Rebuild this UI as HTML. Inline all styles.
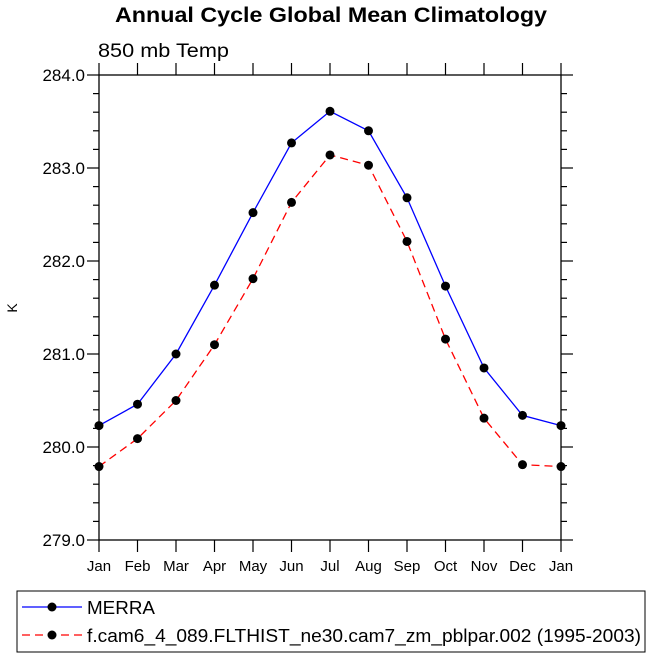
<!DOCTYPE html>
<html><head><meta charset="utf-8"><style>
body{margin:0;background:#fff;}
svg{display:block;font-family:"Liberation Sans",Arial,sans-serif;}
</style></head><body>
<svg width="650" height="660" viewBox="0 0 650 660">
<text x="331" y="22" text-anchor="middle" font-size="21" font-weight="bold" textLength="432" lengthAdjust="spacingAndGlyphs">Annual Cycle Global Mean Climatology</text>
<text x="98" y="57" font-size="19" textLength="131" lengthAdjust="spacingAndGlyphs">850 mb Temp</text>
<text x="17" y="308" font-size="14" text-anchor="middle" transform="rotate(-90 17 308)">K</text>
<g id="axes"></g>
<g id="series"></g>
<rect x="17" y="591" width="628" height="61" fill="none" stroke="#000" stroke-width="1"/>
<g>
<line x1="22" y1="607" x2="82" y2="607" stroke="#0000ff" stroke-width="1.3"/>
<circle cx="52" cy="607" r="4.5" fill="#000"/>
<text x="87" y="614" font-size="18" textLength="68" lengthAdjust="spacingAndGlyphs">MERRA</text>
</g>
<g>
<line x1="22" y1="635" x2="82" y2="635" stroke="#ff0000" stroke-width="1.3" stroke-dasharray="8,5"/>
<circle cx="52" cy="635" r="4.5" fill="#000"/>
<text x="87" y="642" font-size="18" textLength="554" lengthAdjust="spacingAndGlyphs">f.cam6_4_089.FLTHIST_ne30.cam7_zm_pblpar.002 (1995-2003)</text>
</g>
</svg>
<script>
const months = ["Jan","Feb","Mar","Apr","May","Jun","Jul","Aug","Sep","Oct","Nov","Dec","Jan"];
const merra = [280.23,280.46,281.0,281.74,282.52,283.27,283.61,283.40,282.68,281.73,280.85,280.34,280.23];
const model = [279.79,280.09,280.50,281.10,281.81,282.63,283.14,283.03,282.21,281.16,280.31,279.81,279.79];
const yTicks = [279.0,280.0,281.0,282.0,283.0,284.0];
const yMin=279, yMax=284, X0=99, X1=561, Y0=540, Y1=75;
const xs = i => X0 + i*(X1-X0)/(months.length-1);
const ys = v => Y0 - (v-yMin)/(yMax-yMin)*(Y0-Y1);
const NS="http://www.w3.org/2000/svg";
function mk(tag, attrs, parent){const e=document.createElementNS(NS,tag);for(const k in attrs)e.setAttribute(k,attrs[k]);parent.appendChild(e);return e;}
const ax=document.getElementById('axes');
const frame=mk('rect',{x:X0,y:Y1,width:X1-X0,height:Y0-Y1,fill:'none',stroke:'#000','stroke-width':1.3},ax);


months.forEach((m,i)=>{
  const x=xs(i);
  mk('line',{x1:x,y1:Y0,x2:x,y2:Y0+12,stroke:'#000','stroke-width':1.2},ax);
  mk('line',{x1:x,y1:Y1,x2:x,y2:Y1-12,stroke:'#000','stroke-width':1.2},ax);
  const t=mk('text',{x:x,y:Y0+31,'text-anchor':'middle','font-size':15},ax);
  t.textContent=m;
  
  
});
for(let v=yMin; v<=yMax+1e-6; v+=0.2){
  const y=ys(v);
  const major=Math.abs(v-Math.round(v))<1e-6;
  const L=major?12:6;
  mk('line',{x1:X0,y1:y,x2:X0-L,y2:y,stroke:'#000','stroke-width':1.2},ax);
  mk('line',{x1:X1,y1:y,x2:X1+L,y2:y,stroke:'#000','stroke-width':1.2},ax);
}
yTicks.forEach(v=>{
  const t=mk('text',{x:X0-14,y:ys(v)+6,'text-anchor':'end','font-size':17},ax);
  t.textContent=v.toFixed(1);
  
  
});
const sg=document.getElementById('series');
function draw(vals,color,dash,name){
  const p=mk('polyline',{points:vals.map((v,i)=>xs(i)+','+ys(v)).join(' '),fill:'none',stroke:color,'stroke-width':1.3},sg);
  if(dash)p.setAttribute('stroke-dasharray',dash);
  
  
  vals.forEach((v,i)=>{
    const c=mk('circle',{cx:xs(i),cy:ys(v),r:4.5,fill:'#000'},sg);
    
    
  });
}
draw(merra,'#0000ff',null,'merra');
draw(model,'#ff0000','8,5','model');
</script>
</body></html>
